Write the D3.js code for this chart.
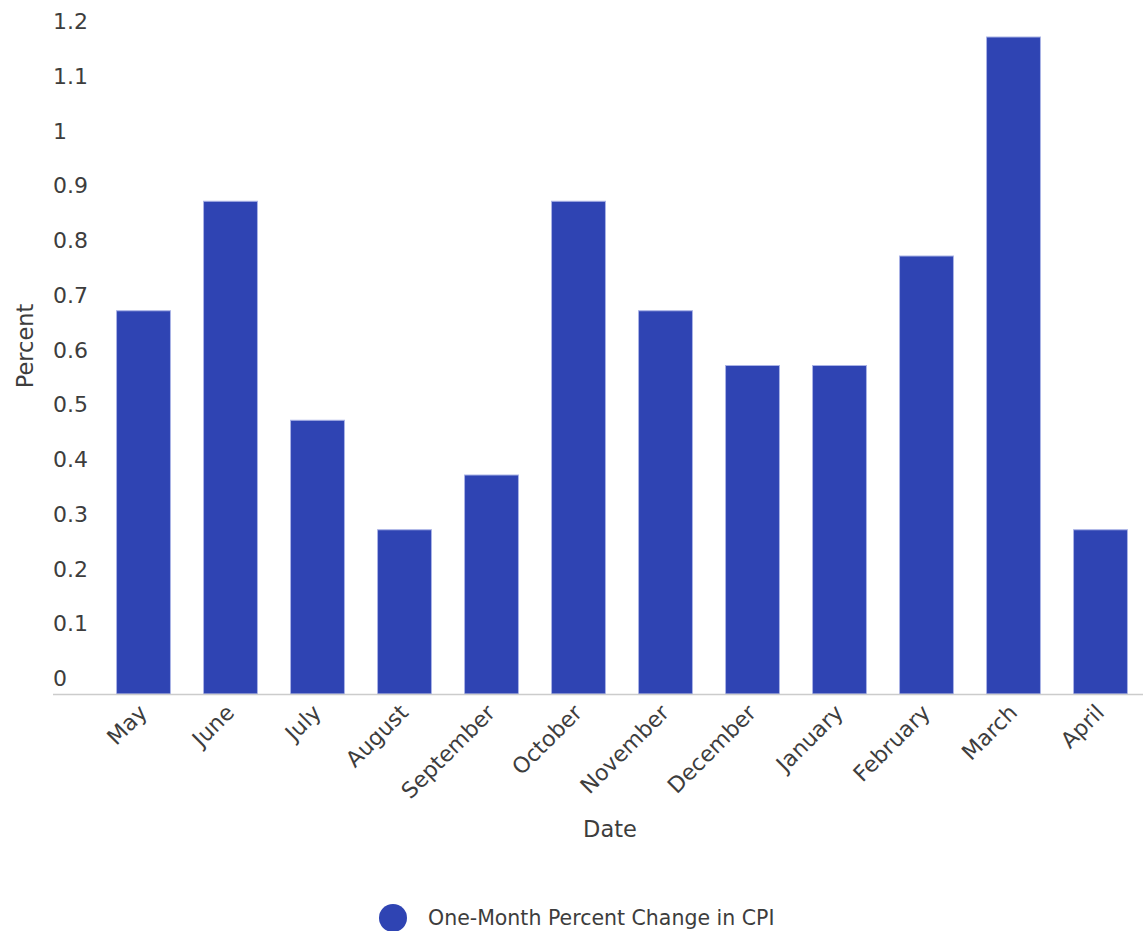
<!DOCTYPE html>
<html>
<head>
<meta charset="utf-8">
<script src="https://cdn.jsdelivr.net/npm/d3@7"></script>
<style>
  body { margin: 0; background: #fff; }
  svg text { font-family: "DejaVu Sans", Verdana, sans-serif; fill: #3d3d3d; }
</style>
</head>
<body>
<script>
const months = ['May', 'June', 'July', 'August', 'September', 'October', 'November',
    'December', 'January', 'February', 'March', 'April'];
const cpiChange = [0.7, 0.9, 0.5, 0.3, 0.4, 0.9, 0.7, 0.6, 0.6, 0.8, 1.2, 0.3];
const yTicks = [0, 0.1, 0.2, 0.3, 0.4, 0.5, 0.6, 0.7, 0.8, 0.9, 1, 1.1, 1.2];
const seriesName = 'One-Month Percent Change in CPI';

const width = 1143;
const height = 931;
const barColor = '#2f44b3';

const svg = d3.select('body').append('svg')
    .attr('width', width)
    .attr('height', height);

// x band scale, bars ~54px wide on an 87px step
const x = d3.scaleBand()
    .domain(months)
    .range([100, 1144])
    .paddingInner(0.38)
    .paddingOuter(0.19);

const y = d3.scaleLinear()
    .domain([0, 1.2])
    .range([694, 37]);

// y tick labels sit above their value, no grid lines
svg.append('g')
    .selectAll('text')
    .data(yTicks)
    .enter().append('text')
    .attr('x', 53)
    .attr('y', d => y(d) - 8)
    .style('font-size', '22px')
    .text(d => d3.format('~g')(d));

// bars
svg.append('g')
    .selectAll('rect')
    .data(cpiChange)
    .enter().append('rect')
    .attr('x', (d, i) => x(months[i]))
    .attr('y', d => y(d))
    .attr('width', x.bandwidth())
    .attr('height', d => y(0) - y(d))
    .attr('fill', barColor)
    .attr('stroke', '#aab3e6')
    .attr('stroke-width', 1);

// baseline
svg.append('line')
    .attr('x1', 53)
    .attr('x2', 1143)
    .attr('y1', y(0) + 0.5)
    .attr('y2', y(0) + 0.5)
    .attr('stroke', '#cccccc')
    .attr('stroke-width', 1.5);

// rotated month labels
svg.append('g')
    .selectAll('text')
    .data(months)
    .enter().append('text')
    .attr('text-anchor', 'end')
    .attr('transform', d => 'translate(' + (x(d) + x.bandwidth() / 2 + 5) + ',' + (y(0) + 20) + ') rotate(-45)')
    .style('font-size', '22px')
    .text(d => d);

// axis titles
svg.append('text')
    .attr('x', 610)
    .attr('y', 837)
    .attr('text-anchor', 'middle')
    .style('font-size', '22.5px')
    .text('Date');

svg.append('text')
    .attr('transform', 'translate(33,346) rotate(-90)')
    .attr('text-anchor', 'middle')
    .style('font-size', '22.5px')
    .text('Percent');

// legend
const legend = svg.append('g')
    .attr('transform', 'translate(393,918)');

legend.append('circle')
    .attr('r', 14)
    .attr('fill', barColor);

legend.append('text')
    .attr('x', 35)
    .attr('y', 7)
    .style('font-size', '20.5px')
    .text(seriesName);
</script>
</body>
</html>
